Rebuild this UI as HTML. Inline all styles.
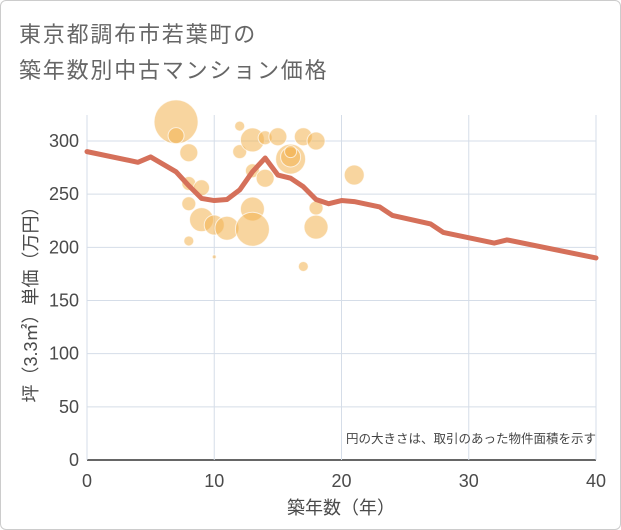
<!DOCTYPE html>
<html><head><meta charset="utf-8"><style>
body{margin:0;background:#fff;}
#wrap{position:relative;width:619px;height:528px;border:1px solid #ccc;border-radius:6px;overflow:hidden;background:#fff;font-family:"Liberation Sans","Noto Sans CJK JP",sans-serif;}
.t{position:absolute;left:18px;font-size:22px;color:#666;letter-spacing:1.8px;white-space:nowrap;}
</style></head><body>
<div id="wrap">
<div class="t" style="top:16px">東京都調布市若葉町の</div>
<div class="t" style="top:52px">築年数別中古マンション価格</div>
<svg id="c" width="621" height="530" style="position:absolute;left:-1px;top:-1px"></svg>
</div>
<script>
const xTicks=[0,10,20,30,40];
const yTicks=[0,50,100,150,200,250,300];
const bubbleX=[7,7,8,8,9,8,9,10,8,10,11,12,12,13,13,13,13,14,14,15,16,16,16,17,17,18,18,18,21];
const bubbleY=[318,305,289,260,256,241,226,221,206,191,218,314,290,301,272,236,217,303,265,304,283,285,290,304,182,300,237,219,268];
const bubbleR=[22,8,9,7,8,7,12,10,5,2,12,5,7,12,7,12,17,7,9,9,15,10,6,9,5,9,7,12,10];
const lineX=[0,4,5,7,8,9,10,11,12,13,14,15,16,17,18,19,20,21,23,24,27,28,32,33,40];
const lineY=[290,280,285,271,258,246,244,245,254,271,284,268,265,257,245,241,244,243,238,230,222,214,204,207,190];
const NS="http://www.w3.org/2000/svg";
const svg=document.getElementById('c');
const X=v=>87+v*(596-87)/40;
const Y=v=>460-v*(460-141)/300;
function mk(t,a){const e=document.createElementNS(NS,t);for(const k in a)e.setAttribute(k,a[k]);svg.appendChild(e);return e;}
for(const t of yTicks){
 const l=mk('line',{x1:87,x2:596,y1:Y(t),y2:Y(t),stroke:t===0?'#333':'#d5dde8','stroke-width':t===0?1.5:1});
 
 
 const tx=mk('text',{x:79,y:Y(t)+6,'text-anchor':'end','font-size':18,fill:'#4a4a4a','font-family':'Liberation Sans, sans-serif'});
 tx.textContent=t;
 
 
}
for(const t of xTicks){
 const l=mk('line',{x1:X(t),x2:X(t),y1:115,y2:460,stroke:'#d5dde8','stroke-width':1});
 
 
 const tx=mk('text',{x:X(t),y:487,'text-anchor':'middle','font-size':18,fill:'#4a4a4a','font-family':'Liberation Sans, sans-serif'});
 tx.textContent=t;
 
 
}
for(let i=0;i<bubbleX.length;i++){
 const c=mk('circle',{cx:X(bubbleX[i]),cy:Y(bubbleY[i]),r:bubbleR[i],fill:'rgba(242,178,80,0.55)',stroke:'rgba(255,255,255,0.7)','stroke-width':1});
 
 
}
const p=mk('polyline',{points:lineX.map((x,i)=>X(x)+','+Y(lineY[i])).join(' '),fill:'none',stroke:'#d5705a','stroke-width':5,'stroke-linejoin':'round','stroke-linecap':'round'});


const xt=mk('text',{x:341,y:514,'text-anchor':'middle','font-size':18,fill:'#4a4a4a','font-family':'Liberation Sans, Noto Sans CJK JP, sans-serif'});
xt.textContent='築年数（年）';


const yt=mk('text',{x:0,y:0,'text-anchor':'middle','font-size':18,fill:'#4a4a4a','font-family':'Liberation Sans, Noto Sans CJK JP, sans-serif',transform:'translate(37,300) rotate(-90)'});
yt.textContent='坪（3.3㎡）単価（万円）';


const note=mk('text',{x:596,y:443,'text-anchor':'end','font-size':12.5,fill:'#444','font-family':'Liberation Sans, Noto Sans CJK JP, sans-serif'});
note.textContent='円の大きさは、取引のあった物件面積を示す';


</script>
</body></html>
